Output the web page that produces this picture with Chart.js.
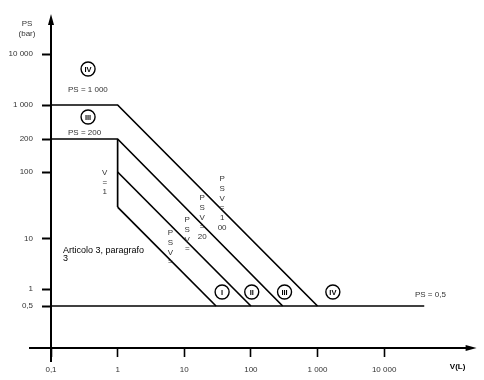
<!DOCTYPE html>
<html>
<head>
<meta charset="utf-8">
<script src="https://cdn.jsdelivr.net/npm/chart.js@4.4.1/dist/chart.umd.min.js"></script>
<style>
body { margin: 0; background: #fff; }
</style>
</head>
<body>
<canvas id="pedChart" width="484" height="380"></canvas>
<script>
// axis ticks
const volumeTicks = [0.1, 1, 10, 100, 1000, 10000];
const volumeTickLabels = ['0,1', '1', '10', '100', '1 000', '10 000'];
const pressureTicks = [0.5, 1, 10, 100, 200, 1000, 10000];
const pressureTickLabels = ['0,5', '1', '10', '100', '200', '1 000', '10 000'];

// limit lines: V (L) and PS (bar)
const lineIVVolume = [0.1, 1, 1000];
const lineIVPressure = [1000, 1000, 0.5];
const lineIIIVolume = [0.1, 1, 300];
const lineIIIPressure = [200, 200, 0.5];
const lineIIVolume = [1, 100];
const lineIIPressure = [100, 0.5];
const lineIVolume = [1, 30];
const lineIPressure = [30, 0.5];
const edgeVolume = [1, 1];
const edgePressure = [200, 30];
const floorVolume = [0.1, 40000];
const floorPressure = [0.5, 0.5];

// category markers
const categoryNames = ['IV', 'III', 'I', 'II', 'III', 'IV'];
const categoryVolume = [0.36, 0.36, 37, 103, 320, 1700];
const categoryPressure = [5080, 567, 0.885, 0.885, 0.885, 0.885];

// notes (left aligned)
const noteTexts = ['PS = 1 000', 'PS = 200', 'PS = 0,5', 'Articolo 3, paragrafo', '3'];
const noteVolume = [0.18, 0.18, 29000, 0.151, 0.151];
const notePressure = [1970, 265, 0.78, 6.0, 3.98];

// stacked notes along the lines (centered, one group per row)
const stackTexts = [
    ['V', '=', '1'],
    ['P', 'S', 'V', '=', '1', '00'],
    ['P', 'S', 'V', '=', '20'],
    ['P', 'S', 'V', '='],
    ['P', 'S', 'V', '=']
];
const stackVolume = [0.64, 37, 18.6, 11.1, 6.18];
const stackPressure = [97, 78.7, 40.9, 19.2, 12.3];

const FONT = "'Liberation Sans', Arial, sans-serif";

function pairs(xs, ys) {
    return xs.map((v, i) => ({ x: v, y: ys[i] }));
}

// log-like axis whose decades are not all the same height (as in the drawing)
class SteppedLogScale extends Chart.LinearScale {
    buildTicks() {
        return this.options.tickValues.map(v => ({ value: v }));
    }
    _decimal(value) {
        const stops = this.options.stops;
        const heights = this.options.heights;
        const total = heights.reduce((a, b) => a + b, 0);
        let i = 0;
        while (i < heights.length - 1 && value > stops[i + 1]) i++;
        const lo = Math.log10(stops[i]);
        const hi = Math.log10(stops[i + 1]);
        const t = (Math.log10(value) - lo) / (hi - lo);
        let cum = 0;
        for (let k = 0; k < i; k++) cum += heights[k];
        return (cum + t * heights[i]) / total;
    }
    getPixelForValue(value) {
        return this.getPixelForDecimal(this._decimal(value));
    }
    getValueForPixel(pixel) {
        const d = this.getDecimalForPixel(pixel);
        const stops = this.options.stops;
        const heights = this.options.heights;
        const total = heights.reduce((a, b) => a + b, 0);
        let cum = 0;
        for (let i = 0; i < heights.length; i++) {
            const h = heights[i] / total;
            if (d <= cum + h || i === heights.length - 1) {
                const t = (d - cum) / h;
                const lo = Math.log10(stops[i]);
                const hi = Math.log10(stops[i + 1]);
                return Math.pow(10, lo + t * (hi - lo));
            }
            cum += h;
        }
        return stops[stops.length - 1];
    }
}
SteppedLogScale.id = 'steppedLog';
SteppedLogScale.defaults = {};
Chart.register(SteppedLogScale);

const pedDecor = {
    id: 'pedDecor',
    afterDatasetsDraw(chart) {
        const ctx = chart.ctx;
        const area = chart.chartArea;
        const x = chart.scales.x;
        const y = chart.scales.y;
        ctx.save();
        ctx.strokeStyle = '#000';
        ctx.fillStyle = '#000';
        ctx.lineWidth = 2;

        // axes with arrows
        ctx.beginPath();
        ctx.moveTo(area.left, area.top + 4);
        ctx.lineTo(area.left, area.bottom + 14);
        ctx.moveTo(area.left - 22, area.bottom);
        ctx.lineTo(area.right - 6, area.bottom);
        ctx.stroke();
        ctx.beginPath();
        ctx.moveTo(area.left, area.top - 1);
        ctx.lineTo(area.left - 3, area.top + 10);
        ctx.lineTo(area.left + 3, area.top + 10);
        ctx.closePath();
        ctx.fill();
        ctx.beginPath();
        ctx.moveTo(area.right + 1, area.bottom);
        ctx.lineTo(area.right - 10, area.bottom - 3);
        ctx.lineTo(area.right - 10, area.bottom + 3);
        ctx.closePath();
        ctx.fill();

        // axis titles
        ctx.fillStyle = '#333';
        ctx.font = '8px ' + FONT;
        ctx.textAlign = 'center';
        ctx.textBaseline = 'middle';
        ctx.fillText('PS', area.left - 24, 24);
        ctx.fillText('(bar)', area.left - 24, 34);
        ctx.fillStyle = '#000';
        ctx.font = 'bold 8px ' + FONT;
        ctx.fillText('V(L)', area.right - 18, area.bottom + 19);

        // roman numerals in the circles
        const meta = chart.getDatasetMeta(chart.data.datasets.length - 1);
        ctx.font = 'bold 7.5px ' + FONT;
        meta.data.forEach((pt, i) => {
            ctx.fillText(categoryNames[i], pt.x, pt.y + 0.5);
        });

        // notes
        ctx.textAlign = 'left';
        noteTexts.forEach((t, i) => {
            const dark = i >= 3;
            ctx.font = (dark ? '9px ' : '8px ') + FONT;
            ctx.fillStyle = dark ? '#000' : '#333';
            ctx.fillText(t, x.getPixelForValue(noteVolume[i]), y.getPixelForValue(notePressure[i]));
        });

        // stacked notes
        ctx.textAlign = 'center';
        ctx.fillStyle = '#333';
        ctx.font = '8px ' + FONT;
        stackTexts.forEach((rows, i) => {
            const px = x.getPixelForValue(stackVolume[i]);
            const py = y.getPixelForValue(stackPressure[i]);
            rows.forEach((r, k) => ctx.fillText(r, px, py + k * 9.7));
        });
        ctx.restore();
    }
};

function lineSet(xs, ys) {
    return {
        data: pairs(xs, ys),
        showLine: true,
        borderColor: '#000',
        borderWidth: 1.7,
        pointRadius: 0,
        fill: false
    };
}

new Chart(document.getElementById('pedChart'), {
    type: 'scatter',
    data: {
        datasets: [
            lineSet(lineIVVolume, lineIVPressure),
            lineSet(lineIIIVolume, lineIIIPressure),
            lineSet(lineIIVolume, lineIIPressure),
            lineSet(lineIVolume, lineIPressure),
            lineSet(edgeVolume, edgePressure),
            lineSet(floorVolume, floorPressure),
            {
                data: pairs(categoryVolume, categoryPressure),
                pointRadius: 7,
                pointBackgroundColor: '#fff',
                pointBorderColor: '#000',
                pointBorderWidth: 1.4
            }
        ]
    },
    options: {
        responsive: false,
        animation: false,
        layout: { padding: { top: 15, right: 6, left: 0, bottom: 0 } },
        plugins: {
            legend: { display: false },
            tooltip: { enabled: false }
        },
        scales: {
            x: {
                type: 'logarithmic',
                min: 0.1,
                max: 236000,
                afterBuildTicks: function(scale) {
                    scale.ticks = volumeTicks.map(v => ({ value: v }));
                },
                afterFit: function(scale) {
                    scale.height = 32;
                },
                border: { display: false },
                grid: {
                    drawOnChartArea: false,
                    drawTicks: true,
                    tickLength: 9,
                    tickWidth: 1.6,
                    tickColor: '#000'
                },
                ticks: {
                    autoSkip: false,
                    maxRotation: 0,
                    padding: 8,
                    color: '#333',
                    font: { family: FONT, size: 8 },
                    callback: function(value) {
                        const i = volumeTicks.indexOf(value);
                        return i >= 0 ? volumeTickLabels[i] : '';
                    }
                }
            },
            y: {
                type: 'steppedLog',
                min: 0.1,
                max: 100000,
                tickValues: pressureTicks,
                stops: [0.1, 0.5, 1, 10, 100, 200, 1000, 10000, 100000],
                heights: [42, 17, 50, 67, 33, 34, 51, 39],
                afterFit: function(scale) {
                    scale.width = 51;
                },
                border: { display: false },
                grid: {
                    drawOnChartArea: false,
                    drawTicks: true,
                    tickLength: 9,
                    tickWidth: 2,
                    tickColor: '#000'
                },
                ticks: {
                    autoSkip: false,
                    padding: 9,
                    color: '#333',
                    font: { family: FONT, size: 8 },
                    callback: function(value) {
                        const i = pressureTicks.indexOf(value);
                        return i >= 0 ? pressureTickLabels[i] : '';
                    }
                }
            }
        }
    },
    plugins: [pedDecor]
});
</script>
</body>
</html>
